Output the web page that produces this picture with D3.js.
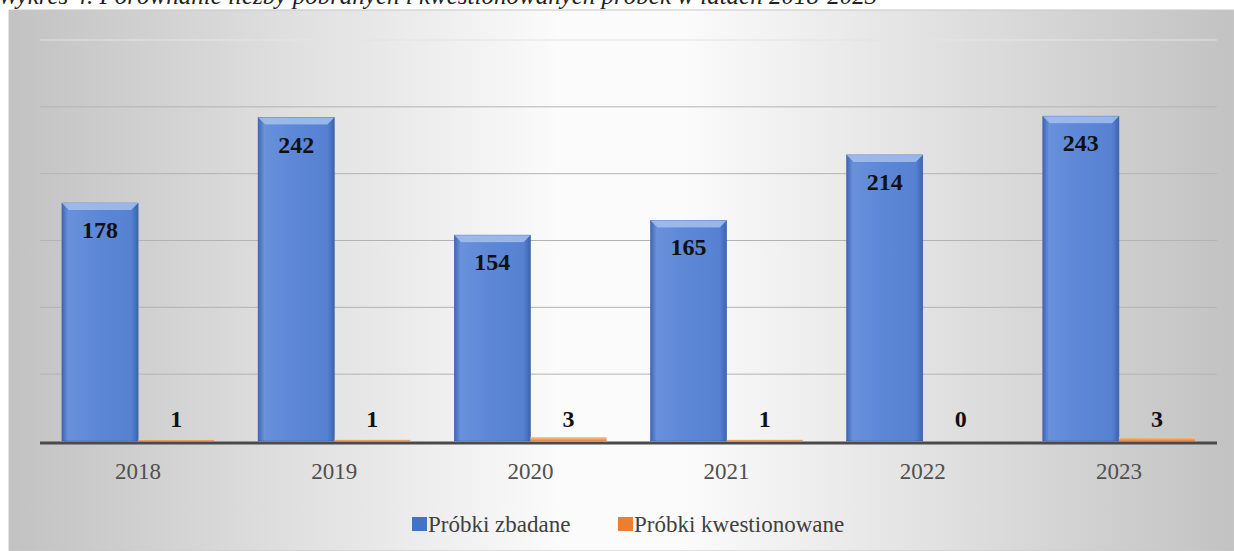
<!DOCTYPE html>
<html>
<head>
<meta charset="utf-8">
<script src="https://cdn.jsdelivr.net/npm/d3@7"></script>
<style>
  body { margin: 0; background: #fff; }
  svg { display: block; }
</style>
</head>
<body>
<svg id="mainSvg" width="1234" height="551"></svg>
<script>
var years = ["2018", "2019", "2020", "2021", "2022", "2023"];
var zbadane = [178, 242, 154, 165, 214, 243];
var kwestionowane = [1, 1, 3, 1, 0, 3];
var seriesNames = ["Próbki zbadane", "Próbki kwestionowane"];
var yTicks = [0, 50, 100, 150, 200, 250, 300];

var fontFam = "Liberation Serif, Times New Roman, serif";
var svg = d3.select("#mainSvg");
var defs = svg.append("defs");

// background: grey at the sides, white in the middle
var bg = defs.append("linearGradient").attr("id", "bgGrad")
    .attr("x1", "0").attr("x2", "1").attr("y1", "0").attr("y2", "0");
bg.append("stop").attr("offset", "0%").attr("stop-color", "#c2c2c2");
bg.append("stop").attr("offset", "22%").attr("stop-color", "#dedede");
bg.append("stop").attr("offset", "45%").attr("stop-color", "#fbfbfb");
bg.append("stop").attr("offset", "55%").attr("stop-color", "#fbfbfb");
bg.append("stop").attr("offset", "78%").attr("stop-color", "#dedede");
bg.append("stop").attr("offset", "100%").attr("stop-color", "#c2c2c2");

var blueGrad = defs.append("linearGradient").attr("id", "blueGrad")
    .attr("x1", "0").attr("x2", "1").attr("y1", "0").attr("y2", "0");
blueGrad.append("stop").attr("offset", "0%").attr("stop-color", "#3d66b6");
blueGrad.append("stop").attr("offset", "9%").attr("stop-color", "#6f96de");
blueGrad.append("stop").attr("offset", "50%").attr("stop-color", "#5e88d7");
blueGrad.append("stop").attr("offset", "91%").attr("stop-color", "#5681d2");
blueGrad.append("stop").attr("offset", "100%").attr("stop-color", "#3b63b1");

var orangeGrad = defs.append("linearGradient").attr("id", "orangeGrad")
    .attr("x1", "0").attr("x2", "0").attr("y1", "0").attr("y2", "1");
orangeGrad.append("stop").attr("offset", "0%").attr("stop-color", "#f7c9a4");
orangeGrad.append("stop").attr("offset", "100%").attr("stop-color", "#e5813f");

// title (cut off at the top of the picture)
svg.append("text")
    .attr("x", -2).attr("y", 4)
    .attr("font-family", fontFam)
    .attr("font-style", "italic")
    .attr("font-size", "25px")
    .attr("fill", "#222")
    .text("Wykres 4. Porównanie liczby pobranych i kwestionowanych próbek w latach 2018-2023");

// chart area
svg.append("rect")
    .attr("x", 9).attr("y", 10).attr("width", 1225).attr("height", 541)
    .attr("fill", "url(#bgGrad)")
    .attr("stroke", "#c8c8c8").attr("stroke-width", 1);

var plotLeft = 40, plotRight = 1217, plotTop = 40, plotBottom = 441;

var x0 = d3.scaleBand().domain(years).range([plotLeft, plotRight]).paddingInner(0.224).paddingOuter(0.112);
var x1 = d3.scaleBand().domain([0, 1]).range([0, x0.bandwidth()]);
var y = d3.scaleLinear().domain([0, 300]).range([plotBottom, plotTop]);

var grid = svg.append("g").attr("class", "grid");
grid.selectAll("line").data(yTicks.slice(1)).enter().append("line")
    .attr("x1", plotLeft).attr("x2", plotRight)
    .attr("y1", function (d) { return y(d); })
    .attr("y2", function (d) { return y(d); })
    .attr("stroke", function (d) { return d == 300 ? "#e4e4e4" : "#b3b3b3"; })
    .attr("stroke-width", 1);

// blue bars with bevel
var bw = x1.bandwidth();
var blueG = svg.selectAll(".blueBar").data(zbadane).enter().append("g")
    .attr("class", "blueBar")
    .attr("transform", function (d, i) { return "translate(" + (x0(years[i]) + x1(0)) + ",0)"; });

blueG.append("rect")
    .attr("x", 0).attr("width", bw)
    .attr("y", function (d) { return y(d); })
    .attr("height", function (d) { return plotBottom - y(d); })
    .attr("fill", "url(#blueGrad)")
    .attr("stroke", "#3a5fa8").attr("stroke-width", 0.6);

blueG.append("path")
    .attr("d", function (d) {
        var t = y(d);
        return "M0," + t + "L" + bw + "," + t + "L" + (bw - 7) + "," + (t + 7) + "L7," + (t + 7) + "Z";
    })
    .attr("fill", "#a4bff0").attr("opacity", 0.85);

blueG.append("rect")
    .attr("x", 7).attr("width", bw - 14)
    .attr("y", function (d) { return y(d) + 7; })
    .attr("height", function (d) { return plotBottom - y(d) - 7; })
    .attr("fill", "#5a85d5").attr("opacity", 0.3);

blueG.append("text")
    .attr("x", bw / 2)
    .attr("y", function (d) { return y(d) + 35; })
    .attr("text-anchor", "middle")
    .attr("font-family", fontFam)
    .attr("font-weight", "bold")
    .attr("font-size", "24px")
    .attr("fill", "#111")
    .text(function (d) { return d; });

// orange bars
var orangeG = svg.selectAll(".orangeBar").data(kwestionowane).enter().append("g")
    .attr("class", "orangeBar")
    .attr("transform", function (d, i) { return "translate(" + (x0(years[i]) + x1(1)) + ",0)"; });

orangeG.append("rect")
    .attr("x", 0).attr("width", bw)
    .attr("y", function (d) { return y(d); })
    .attr("height", function (d) { return plotBottom - y(d); })
    .attr("fill", "url(#orangeGrad)");

// labels of the small bars all sit on one line above the axis
orangeG.append("text")
    .attr("x", bw / 2)
    .attr("y", y(0) - 14)
    .attr("text-anchor", "middle")
    .attr("font-family", fontFam)
    .attr("font-weight", "bold")
    .attr("font-size", "24px")
    .attr("fill", "#111")
    .text(function (d) { return d; });

// baseline
svg.append("line")
    .attr("x1", plotLeft).attr("x2", plotRight)
    .attr("y1", plotBottom + 2).attr("y2", plotBottom + 2)
    .attr("stroke", "#4a4a4a").attr("stroke-width", 3);

// x axis
var xAxis = svg.append("g")
    .attr("transform", "translate(0," + (plotBottom + 2) + ")")
    .call(d3.axisBottom(x0).tickSize(0).tickPadding(20));
xAxis.select(".domain").remove();
xAxis.selectAll("text")
    .attr("font-family", fontFam)
    .attr("font-size", "23px")
    .attr("fill", "#505050");

// legend
var legendColors = ["#4472c4", "#ed7d31"];
var legendX = [412, 618];
var legend = svg.selectAll(".legend").data(seriesNames).enter().append("g")
    .attr("class", "legend")
    .attr("transform", function (d, i) { return "translate(" + legendX[i] + ",532)"; });
legend.append("rect")
    .attr("x", 0).attr("y", -15).attr("width", 15).attr("height", 14)
    .attr("fill", function (d, i) { return legendColors[i]; });
legend.append("text")
    .attr("x", 16).attr("y", 0)
    .attr("font-family", fontFam)
    .attr("font-size", "23px")
    .attr("fill", "#404040")
    .text(function (d) { return d; });
</script>
</body>
</html>
